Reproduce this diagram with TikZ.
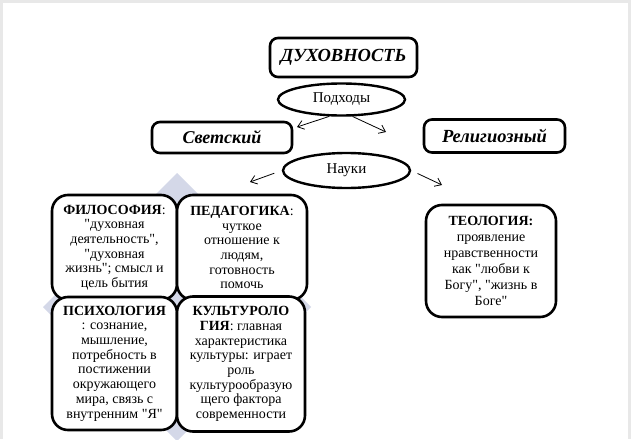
\documentclass[tikz,border=0pt]{standalone}
\usepackage{fontspec}
\setmainfont{Liberation Serif}[Ligatures=TeXOff]
\usetikzlibrary{shapes.geometric,arrows.meta}
\definecolor{diam}{RGB}{212,216,232}
\definecolor{edge}{RGB}{232,232,232}
\begin{document}
\begin{tikzpicture}[x=1pt,y=-1pt,
  frame/.style={draw=black, fill=white, line width=2.6pt, rounded corners=8pt, inner sep=0pt},
  card/.style={draw=black, fill=white, line width=2.6pt, rounded corners=16pt, inner sep=0pt, align=center, font=\fontsize{14}{14.7}\selectfont},
  oval/.style={draw=black, fill=white, ellipse, line width=2.4pt, inner sep=0pt, font=\fontsize{15}{17}\selectfont},
  arr/.style={-{Straight Barb[length=6pt,width=9pt]}, line width=0.8pt}
]
\useasboundingbox (0,0) rectangle (631,439);
\fill[edge] (0,0) rectangle (631,439);
\fill[white] (3,3) rectangle (628,439);
\begin{scope}
\clip (0,0) rectangle (631,439);
\fill[diam] (177,173) -- (311,307) -- (177,441) -- (43,307) -- cycle;
\end{scope}

\node[frame, minimum width=147pt, minimum height=39pt, font=\fontsize{18.5}{22}\selectfont\bfseries\itshape] (dukh) at (343.5,57.5) {ДУХОВНОСТЬ};
\node[oval, minimum width=127pt, minimum height=32pt] (podh) at (341.5,99.5) {Подходы};
\node[frame, minimum width=140pt, minimum height=31pt, font=\fontsize{18}{21}\selectfont\bfseries\itshape] (svet) at (222,137.5) {Светский};
\node[frame, minimum width=141pt, minimum height=33pt, font=\fontsize{18.5}{21}\selectfont\bfseries\itshape] (relig) at (494.5,136) {Религиозный};
\node[oval, minimum width=127pt, minimum height=35pt] (nauki) at (346.5,170.5) {Науки};

\node[card, minimum width=125pt, minimum height=105pt] (filos) at (114.5,247.5) {\textbf{ФИЛОСОФИЯ}:\\"духовная\\деятельность",\\"духовная\\жизнь"; смысл и\\цель бытия};
\node[card, minimum width=130pt, minimum height=105pt] (pedag) at (242,247.5) {\textbf{ПЕДАГОГИКА}:\\чуткое\\отношение к\\людям,\\готовность\\помочь};
\node[card, minimum width=125pt, minimum height=133pt] (psych) at (114.5,363.5) {\textbf{ПСИХОЛОГИЯ}\\: сознание,\\мышление,\\потребность в\\постижении\\окружающего\\мира, связь с\\внутренним "Я"};
\node[card, minimum width=128pt, minimum height=135pt] (kult) at (241,364) {\textbf{КУЛЬТУРОЛО}\\\textbf{ГИЯ}: главная\\характеристика\\культуры: играет\\роль\\культурообразую\\щего фактора\\современности};
\node[card, minimum width=130pt, minimum height=112pt, font=\fontsize{14}{16}\selectfont] (teol) at (491,261) {\textbf{ТЕОЛОГИЯ:}\\проявление\\нравственности\\как "любви к\\Богу", "жизнь в\\Боге"};

\coordinate (pl) at (297,127);
\coordinate (pr) at (386,132);
\coordinate (nl) at (250,182);
\coordinate (nr) at (442,185);
\draw[arr] (podh.234) -- (pl);
\draw[arr] (podh.303) -- (pr);
\draw[arr, shorten <=8pt] (nauki.west) -- (nl);
\draw[arr, shorten <=7pt] (nauki.east) -- (nr);
\end{tikzpicture}
\end{document}
